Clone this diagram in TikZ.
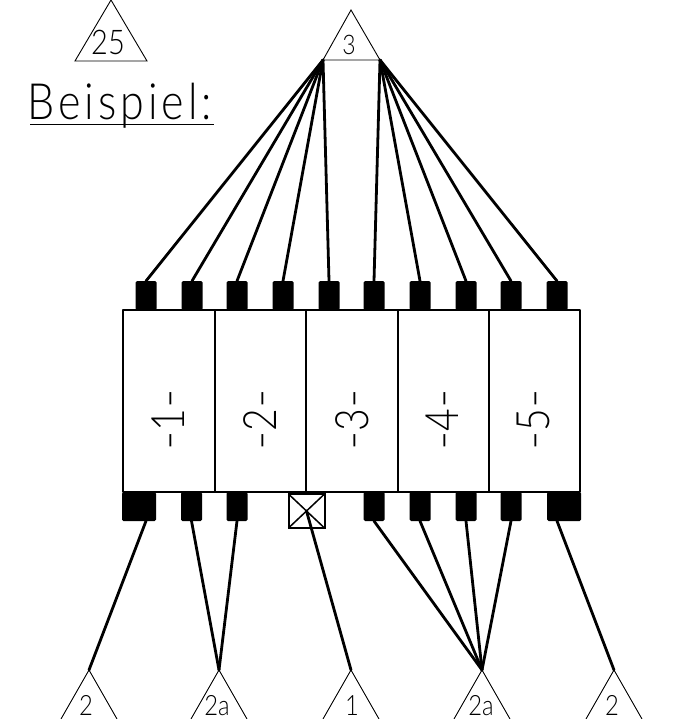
\documentclass[tikz,border=0pt]{standalone}
\usepackage{graphicx}
\usepackage{fontspec}
\newfontfamily\cadfont[FakeStretch=0.85]{Lato Light}
\newfontfamily\cadwide[FakeStretch=0.86,LetterSpace=8]{Lato Light}
\newcommand{\cadbar}{\scalebox{1.35}[1]{-}}
\begin{document}
\begin{tikzpicture}[x=1pt,y=-1pt,
  pin/.style={draw=none,fill=black,rounded corners=1.5pt,minimum width=21pt,minimum height=29pt,inner sep=0pt,outer sep=0pt},
  widepin/.style={pin,minimum width=34pt},
  wire/.style={line width=2.8pt,line cap=round},
  frame/.style={line width=2.8pt,line join=round},
  tri/.style={line width=0.9pt,line join=miter},
  tlabel/.style={anchor=base,inner sep=0pt,outer sep=0pt},
  modlabel/.style={inner sep=0pt,outer sep=0pt,rotate=90,font=\cadfont\fontsize{46}{46}\selectfont}]
\useasboundingbox (0,0) rectangle (699,719);
% triangles
\coordinate (T25) at (111,0);
\coordinate (T3) at (351,10);
\coordinate (T3l) at (323,60);
\coordinate (T3r) at (380,60);
\draw[tri] (T25) -- (75,61) -- (147,61) -- cycle;
\draw[tri] (T3) -- (T3l) -- (T3r) -- cycle;
\foreach \n/\x in {A/89,B/219,C/351,D/482,E/614}{
  \coordinate (\n) at (\x,670);
  \draw[tri] (\x-28,719) -- (\n) -- (\x+28,719);
}
% pins
\foreach \i/\x in {1/146,2/192,3/237,4/283,5/329,6/374,7/420,8/466,9/511,10/557}
  \node[pin] (p\i) at (\x,295.5) {};
\node[widepin] (q1) at (139,506.5) {};
\node[pin] (q2) at (191.5,506.5) {};
\node[pin] (q3) at (237,506.5) {};
\node[pin] (q5) at (374,506.5) {};
\node[pin] (q6) at (420,506.5) {};
\node[pin] (q7) at (466,506.5) {};
\node[pin] (q8) at (511,506.5) {};
\node[widepin] (q9) at (564,506.5) {};
% module frame
\draw[frame] (123,310) rectangle (580,492);
\foreach \x in {215,306,398,489} \draw[frame] (\x,310) -- (\x,492);
% crossed box
\node[draw,line width=2pt,minimum width=36pt,minimum height=34pt,inner sep=0pt,outer sep=0pt] (x) at (306.5,511) {};
\draw[line width=1.5pt] (x.north west) -- (x.south east) (x.north east) -- (x.south west);
% wires
\foreach \i in {1,...,5} \draw[wire] (T3l) -- (p\i.north);
\foreach \i in {6,...,10} \draw[wire] (T3r) -- (p\i.north);
\draw[wire] (q1.south) ++(7,0) coordinate (q1s) -- (A);
\draw[wire] (q2.south) -- (B);
\draw[wire] (q3.south) -- (B);
\draw[wire] (x.center) -- (C);
\foreach \i in {5,6,7,8} \draw[wire] (q\i.south) -- (D);
\draw[wire] (q9.south) ++(-7,0) coordinate (q9s) -- (E);
% labels
\node[tlabel,font=\cadfont\fontsize{34}{34}\selectfont] (l25) at (108,55) {25};
\node[tlabel,font=\cadfont\fontsize{27}{27}\selectfont] (l3) at (349,55) {3};
\node[anchor=base west,inner sep=0pt,font=\cadwide\fontsize{50}{50}\selectfont] (bsp) at (27,119.5) {Beispiel:};
\draw[line width=1.2pt] (30,124.5) -- (214,124.5);
\node[tlabel,font=\cadfont\fontsize{28}{28}\selectfont] (b1) at (86,715) {2};
\node[tlabel,font=\cadfont\fontsize{28}{28}\selectfont] (b2) at (217,715) {2a};
\node[tlabel,font=\cadfont\fontsize{28}{28}\selectfont] (b3) at (352,715) {1};
\node[tlabel,font=\cadfont\fontsize{28}{28}\selectfont] (b4) at (481,715) {2a};
\node[tlabel,font=\cadfont\fontsize{28}{28}\selectfont] (b5) at (612,715) {2};
\node[modlabel] (m1) at (168,420) {\cadbar1\cadbar};
\node[modlabel] (m2) at (260,420) {\cadbar2\cadbar};
\node[modlabel] (m3) at (352,420) {\cadbar3\cadbar};
\node[modlabel] (m4) at (442,420) {\cadbar4\cadbar};
\node[modlabel] (m5) at (533,420) {\cadbar5\cadbar};
\end{tikzpicture}
\end{document}
